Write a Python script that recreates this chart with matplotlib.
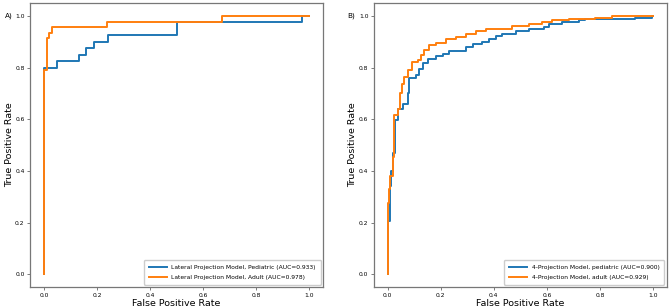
import matplotlib
matplotlib.use('Agg')
import matplotlib.pyplot as plt

# ROC corner points (fpr, tpr)
# A) lateral projection model
lat_ped_fpr = [0.0, 0.0, 0.051, 0.133, 0.158, 0.187, 0.24, 0.50, 0.972, 1.0]
lat_ped_tpr = [0.0, 0.80, 0.825, 0.85, 0.875, 0.90, 0.925, 0.975, 1.0, 1.0]
lat_adu_fpr = [0.0, 0.0, 0.011, 0.021, 0.032, 0.237, 0.671, 1.0]
lat_adu_tpr = [0.0, 0.79, 0.915, 0.935, 0.957, 0.978, 1.0, 1.0]

# B) 4-projection model
four_ped_fpr = [0.0, 0.0, 0.008, 0.012, 0.02, 0.029, 0.038, 0.056, 0.075, 0.081, 0.106,
                0.119, 0.134, 0.150, 0.182, 0.207, 0.232, 0.276, 0.294, 0.32, 0.357,
                0.382, 0.407, 0.432, 0.482, 0.532, 0.589, 0.608, 0.658, 0.72, 0.745,
                0.933, 0.996, 1.0]
four_ped_tpr = [0.0, 0.206, 0.34, 0.40, 0.47, 0.596, 0.64, 0.66, 0.70, 0.758, 0.77,
                0.796, 0.816, 0.835, 0.844, 0.854, 0.863, 0.863, 0.88, 0.893, 0.899,
                0.909, 0.921, 0.932, 0.941, 0.951, 0.957, 0.97, 0.977, 0.983, 0.99,
                0.994, 1.0, 1.0]
four_adu_fpr = [0.0, 0.0, 0.006, 0.01, 0.019, 0.025, 0.038, 0.046, 0.054, 0.062, 0.075,
                0.091, 0.113, 0.125, 0.138, 0.156, 0.182, 0.219, 0.257, 0.294, 0.332,
                0.37, 0.47, 0.532, 0.583, 0.62, 0.683, 0.783, 0.846, 1.0]
four_adu_tpr = [0.0, 0.274, 0.33, 0.38, 0.454, 0.616, 0.64, 0.70, 0.738, 0.764, 0.79,
                0.822, 0.831, 0.848, 0.867, 0.887, 0.897, 0.909, 0.919, 0.929, 0.942,
                0.951, 0.96, 0.968, 0.977, 0.986, 0.99, 0.994, 1.0, 1.0]

lbl_a = ['Lateral Projection Model, Pediatric (AUC=0.933)',
         'Lateral Projection Model, Adult (AUC=0.978)']
lbl_b = ['4-Projection Model, pediatric (AUC=0.900)',
         '4-Projection Model, adult (AUC=0.929)']

fig = plt.figure(figsize=(6.69, 3.08), dpi=100)
ax1 = fig.add_axes([0.045, 0.068, 0.438, 0.922])
ax2 = fig.add_axes([0.559, 0.068, 0.4375, 0.922])

panels = [
    (ax1, lat_ped_fpr, lat_ped_tpr, lat_adu_fpr, lat_adu_tpr, lbl_a, 'A)', -0.085),
    (ax2, four_ped_fpr, four_ped_tpr, four_adu_fpr, four_adu_tpr, lbl_b, 'B)', -0.09),
]

for ax, pf, pt, af, at, lbls, tag, tagx in panels:
    ax.plot(pf, pt, drawstyle='steps-post', color='#1f77b4', lw=1.4, label=lbls[0])
    ax.plot(af, at, drawstyle='steps-post', color='#ff7f0e', lw=1.4, label=lbls[1])
    ax.set_xlim(-0.052, 1.052)
    ax.set_ylim(-0.05, 1.05)
    ax.set_xticks([0, 0.2, 0.4, 0.6, 0.8, 1.0])
    ax.set_yticks([0, 0.2, 0.4, 0.6, 0.8, 1.0])
    ax.tick_params(labelsize=4.3, length=2, width=0.6, color='#666666', pad=2)
    for s in ax.spines.values():
        s.set_color('#777777')
        s.set_linewidth(0.9)
    ax.set_xlabel('False Positive Rate', fontsize=6.8, labelpad=1)
    ax.set_ylabel('True Positive Rate', fontsize=6.8, labelpad=1)
    ax.legend(loc='lower right', fontsize=4.3, handlelength=3, framealpha=1,
              edgecolor='#cccccc', borderpad=0.8, labelspacing=0.8,
              borderaxespad=0.4)
    ax.text(tagx, 1.0, tag, transform=ax.get_yaxis_transform(), fontsize=5.2,
            ha='left', va='center')

fig.savefig('out.png', dpi=100)
